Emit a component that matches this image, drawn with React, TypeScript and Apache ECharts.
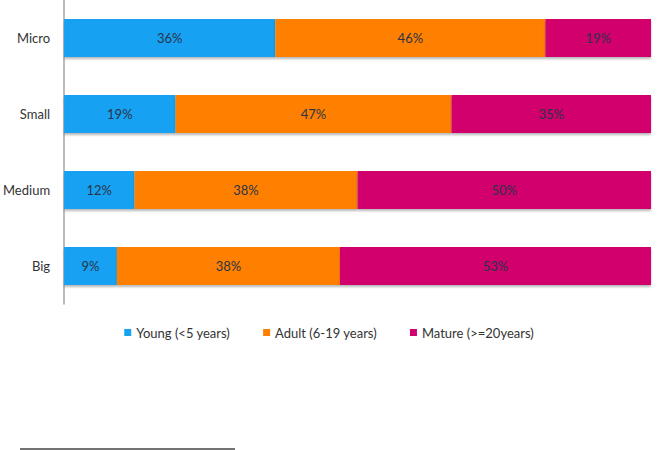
import React, { useEffect, useRef } from "react";
import * as echarts from "echarts";

// Share of firms by age group, per firm size (percent)
const categories = ["Micro", "Small", "Medium", "Big"];
const young = [36, 19, 12, 9];
const adult = [46, 47, 38, 38];
const mature = [19, 35, 50, 53];
const seriesNames = ["Young (<5 years)", "Adult (6-19 years)", "Mature (>=20years)"];
const colors = ["#19A1F2", "#FF8000", "#D1006C"];

const FONT = "Lato, 'Open Sans', sans-serif";

export default function App() {
  const ref = useRef<HTMLDivElement>(null);

  useEffect(() => {
    if (!ref.current) return;
    const chart = echarts.init(ref.current, undefined, { renderer: "svg" });

    const mk = (name: string, data: number[], color: string) => ({
      name,
      type: "bar",
      stack: "total",
      data,
      barWidth: "50%",
      clip: true,
      itemStyle: {
        color,
        shadowColor: "rgba(0,0,0,0.28)",
        shadowBlur: 2,
        shadowOffsetY: 2,
      },
      label: {
        show: true,
        position: "inside",
        formatter: "{c}%",
        color: "#2b3448",
        fontFamily: FONT,
        fontSize: 13,
      },
    });

    chart.setOption({
      animation: false,
      backgroundColor: "#ffffff",
      grid: { left: 63, right: 7, top: 0, height: 304, containLabel: false },
      xAxis: {
        type: "value",
        min: 0,
        max: 100,
        show: false,
      },
      yAxis: {
        type: "category",
        inverse: true,
        data: categories,
        axisLine: { show: true, lineStyle: { color: "#a6a6a6", width: 1.5 } },
        axisTick: { show: false },
        axisLabel: {
          color: "#333333",
          fontFamily: FONT,
          fontSize: 13,
          margin: 14,
        },
      },
      legend: {
        data: seriesNames,
        top: 321,
        left: "center",
        itemWidth: 7,
        itemHeight: 7,
        itemGap: 33,
        icon: "rect",
        textStyle: { color: "#333333", fontFamily: FONT, fontSize: 13 },
      },
      series: [
        mk(seriesNames[0], young, colors[0]),
        mk(seriesNames[1], adult, colors[1]),
        mk(seriesNames[2], mature, colors[2]),
      ],
      graphic: [
        {
          type: "line",
          shape: { x1: 20, y1: 449, x2: 235, y2: 449 },
          style: { stroke: "#444444", lineWidth: 1.5 },
        },
      ],
    });

    return () => chart.dispose();
  }, []);

  return (
    <div
      ref={ref}
      style={{ position: "fixed", left: 0, top: 0, width: 658, height: 450 }}
    />
  );
}
